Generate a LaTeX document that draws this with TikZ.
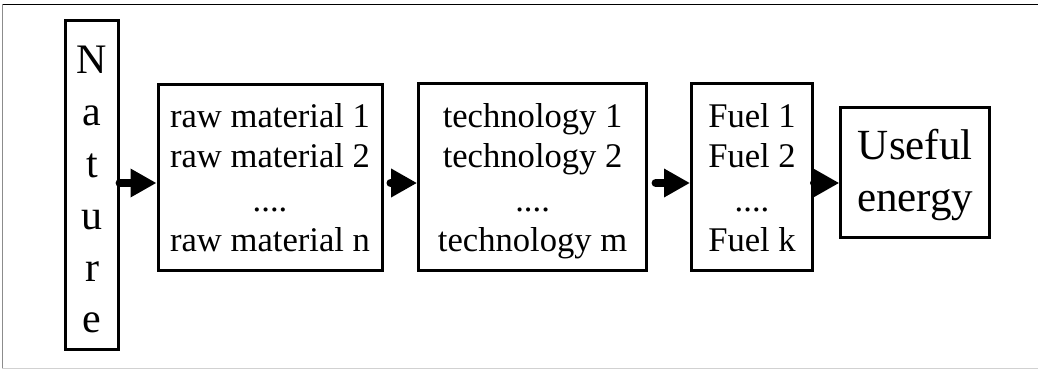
\documentclass[tikz,border=0pt]{standalone}
\usepackage{fontspec}
\setmainfont{Liberation Serif}
\usetikzlibrary{arrows.meta}

% invisible struts that fix the height and depth of every text line
\newcommand\smallstrut{\vrule height 32pt depth 6.5pt width 0pt}
\newcommand\bigstrut{\vrule height 38pt depth 11pt width 0pt}
\newcommand\tallstrut{\vrule height 40.5pt depth 4pt width 0pt}

\definecolor{framegray}{gray}{0.55}
\definecolor{framelight}{gray}{0.82}

\begin{document}
\begin{tikzpicture}[x=1pt,y=-1pt,
  stagebox/.style={draw=black, line width=3pt, rectangle, inner sep=0pt,
    align=center, fill=white},
  smalltext/.style={font=\fontsize{34.6pt}{40pt}\selectfont},
  bigtext/.style={font=\fontsize{43pt}{52pt}\selectfont},
  talltext/.style={font=\fontsize{42pt}{51.8pt}\selectfont},
  flow/.style={line width=8pt, line cap=round,
    -{Triangle[length=26pt,width=27pt]}}
]
\useasboundingbox (0,0) rectangle (1038,369);

% outer frame (open on the right)
\draw[black, line width=1pt] (2,4.5) -- (1038,4.5);
\draw[framegray, line width=1.2pt] (2.5,4) -- (2.5,368);
\draw[framelight, line width=1pt] (2,368) -- (1038,368);

% stages of the chain
\node[stagebox, talltext, minimum width=52.2pt, minimum height=329pt]
  (nature) at (92,185.2)
  {\tallstrut N\\ \tallstrut a\\ \tallstrut t\\ \tallstrut u\\ \tallstrut r\\ \tallstrut e};

\node[stagebox, smalltext, minimum width=224pt, minimum height=186pt]
  (raw) at (270,177)
  {\smallstrut raw material 1\\ \smallstrut raw material 2\\[4pt]
   \smallstrut ....\\ \smallstrut raw material n};

\node[stagebox, smalltext, minimum width=228pt, minimum height=186.7pt]
  (tech) at (532.6,177.1)
  {\smallstrut technology 1\\ \smallstrut technology 2\\[4pt]
   \smallstrut ....\\ \smallstrut technology m};

\node[stagebox, smalltext, minimum width=121pt, minimum height=186.7pt]
  (fuel) at (752,177.1)
  {\smallstrut Fuel 1\\ \smallstrut Fuel 2\\[4pt]
   \smallstrut ....\\ \smallstrut Fuel k};

\node[stagebox, bigtext, minimum width=149pt, minimum height=130.5pt]
  (useful) at (915.3,172.4)
  {\bigstrut Useful\\ \bigstrut energy};

% common height of the arrows
\coordinate (lvl) at (0,183);

% arrows between the stages
\draw[flow] (nature.east |- lvl) -- (raw.west |- lvl);
\draw[flow] ([xshift=7pt]raw.east |- lvl) -- (tech.west |- lvl);
\draw[flow] ([xshift=7.5pt]tech.east |- lvl) -- (fuel.west |- lvl);
\draw[flow] (fuel.east |- lvl) -- (useful.west |- lvl);
\end{tikzpicture}
\end{document}
